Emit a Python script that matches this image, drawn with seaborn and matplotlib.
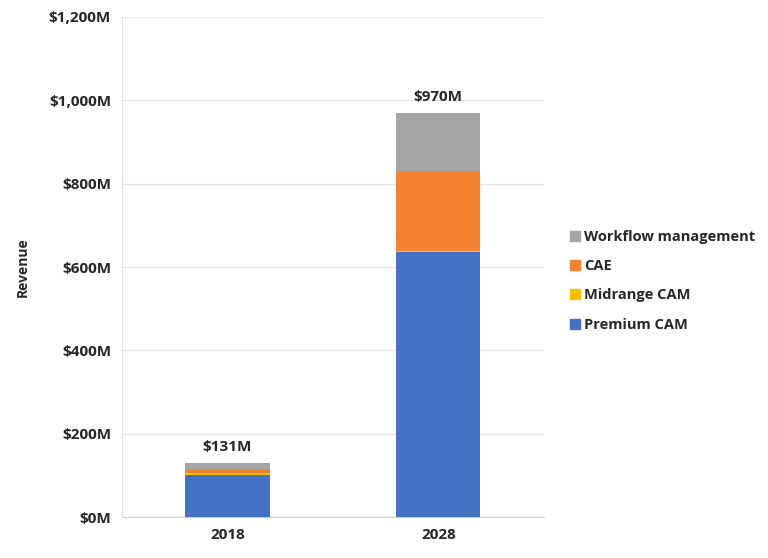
import pandas as pd
import matplotlib.pyplot as plt
import seaborn as sns
from matplotlib.ticker import FuncFormatter, MultipleLocator
from matplotlib.lines import Line2D

years = ['2018', '2028']
premium_cam = [101, 636]
midrange_cam = [6, 3]
cae = [9, 192]
workflow = [15, 139]

series = ['Premium CAM', 'Midrange CAM', 'CAE', 'Workflow management']
colors = ['#4472C4', '#FFC000', '#F58230', '#A5A5A5']

df = pd.DataFrame({'year': years, 'Premium CAM': premium_cam,
                   'Midrange CAM': midrange_cam, 'CAE': cae,
                   'Workflow management': workflow})
cum = df[series].cumsum(axis=1)
cum['year'] = df['year']

sns.set_style('white')
plt.rcParams['font.family'] = ['Open Sans', 'DejaVu Sans']

fig = plt.figure(figsize=(7.68, 5.58), dpi=100)
ax = fig.add_axes([0.159, 0.073, 0.549, 0.897])

# stacked bars: draw the cumulative totals from the top down
for name, col in reversed(list(zip(series, colors))):
    sns.barplot(data=cum, x='year', y=name, color=col, width=0.4,
                saturation=1, ax=ax, zorder=3, linewidth=0)

totals = cum['Workflow management'].tolist()
for i, t in enumerate(totals):
    ax.annotate(f'${t:,.0f}M', (i, t), xytext=(0, 6), textcoords='offset points',
                ha='center', va='bottom', fontsize=11, fontweight='bold')

ax.set_xlim(-0.5, 1.5)
ax.set_ylim(0, 1200)
ax.yaxis.set_major_locator(MultipleLocator(200))
ax.yaxis.set_major_formatter(FuncFormatter(lambda v, p: f'${v:,.0f}M'))
ax.grid(axis='y', color='#e6e6e6', linewidth=1, zorder=0)
ax.set_axisbelow(True)
for s in ['top', 'right']:
    ax.spines[s].set_visible(False)
ax.spines['left'].set_color('#e0e0e0')
ax.spines['bottom'].set_color('#d0d0d0')
ax.tick_params(axis='both', length=0, labelsize=11, pad=8)
for lab in ax.get_xticklabels() + ax.get_yticklabels():
    lab.set_fontweight('bold')
ax.set_xlabel('')
ax.set_ylabel('Revenue', fontsize=10, fontweight='bold')
ax.yaxis.set_label_coords(-0.22, 0.5)

handles = [Line2D([], [], marker='s', linestyle='', markersize=7,
                  markerfacecolor=c, markeredgecolor=c) for c in colors]
leg = fig.legend(handles[::-1], series[::-1], loc='center left',
                 bbox_to_anchor=(0.722, 0.497), frameon=False,
                 prop={'weight': 'bold', 'size': 10.5}, handletextpad=0.15,
                 labelspacing=1.05, handlelength=1.0)

fig.savefig('out.png', dpi=100)
